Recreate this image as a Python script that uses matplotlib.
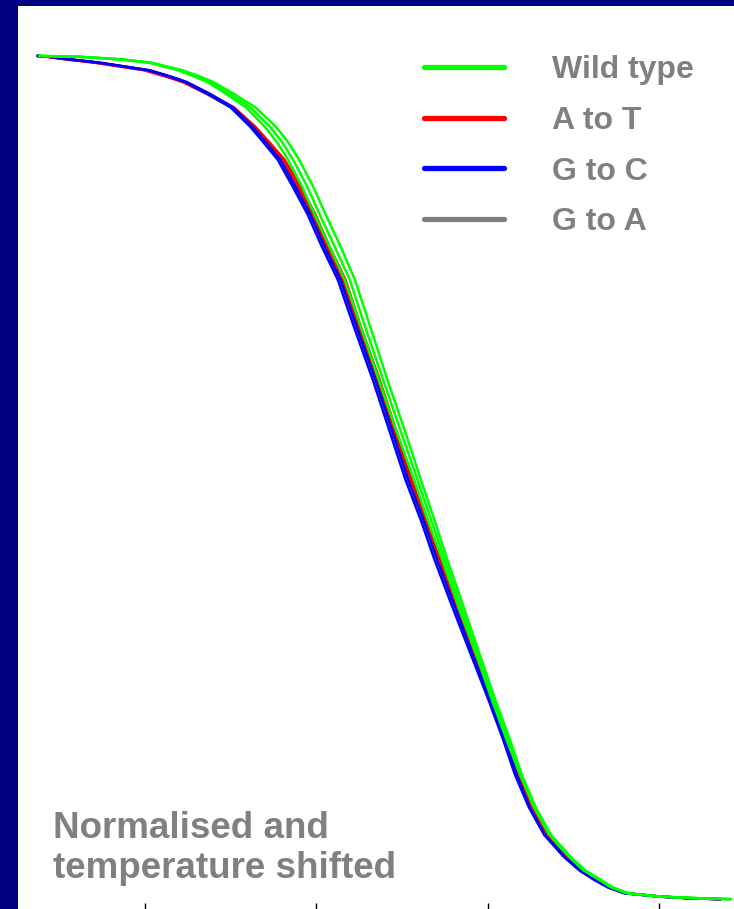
import matplotlib
matplotlib.use("Agg")
import matplotlib.pyplot as plt
from matplotlib.lines import Line2D

plt.rcParams['font.family'] = ['Liberation Sans', 'DejaVu Sans']

# normalised fluorescence levels (%) shared by every melt curve
fluor = [100.0, 99.9, 99.6, 99.2, 98.3, 97.5, 96.9, 95.5, 93.9, 91.6, 89.8, 87.7,
         84.6, 81.2, 77.5, 73.5, 67.6, 61.6, 55.7, 49.8, 45.0, 40.3, 34.4, 28.4,
         23.7, 19.0, 14.8, 11.0, 7.7, 5.1, 3.5, 2.4, 1.5, 0.8, 0.4, 0.2, 0.1]

# shifted temperature (deg C) at which each replicate reaches those levels
wild_type = [
    [78.77, 79.24, 79.71, 80.05, 80.39, 80.59, 80.73, 80.95, 81.18, 81.40, 81.54, 81.67,
     81.83, 81.98, 82.15, 82.33, 82.53, 82.73, 82.93, 83.14, 83.30, 83.47, 83.67, 83.89,
     84.05, 84.22, 84.38, 84.54, 84.72, 84.95, 85.12, 85.30, 85.44, 85.62, 86.00, 86.47, 86.82],
    [78.77, 79.24, 79.71, 80.06, 80.41, 80.62, 80.76, 80.99, 81.23, 81.46, 81.60, 81.73,
     81.89, 82.04, 82.21, 82.39, 82.58, 82.78, 82.98, 83.18, 83.34, 83.50, 83.70, 83.91,
     84.07, 84.24, 84.39, 84.55, 84.73, 84.96, 85.13, 85.31, 85.45, 85.63, 86.01, 86.48, 86.83],
    [78.77, 79.25, 79.72, 80.08, 80.44, 80.66, 80.80, 81.04, 81.29, 81.53, 81.67, 81.80,
     81.96, 82.11, 82.28, 82.45, 82.64, 82.83, 83.03, 83.22, 83.38, 83.53, 83.73, 83.93,
     84.09, 84.26, 84.40, 84.56, 84.74, 84.97, 85.14, 85.32, 85.46, 85.64, 86.02, 86.49, 86.84],
]
a_to_t = [
    [78.75, 78.85, 79.07, 79.41, 79.99, 80.26, 80.44, 80.72, 81.01, 81.26, 81.42, 81.60,
     81.78, 81.96, 82.12, 82.31, 82.51, 82.72, 82.91, 83.10, 83.28, 83.43, 83.65, 83.87,
     84.05, 84.22, 84.35, 84.50, 84.68, 84.91, 85.09, 85.26, 85.42, 85.61, 86.01, 86.36, 86.71],
    [78.76, 78.87, 79.09, 79.44, 80.02, 80.29, 80.47, 80.75, 81.04, 81.29, 81.45, 81.63,
     81.81, 81.99, 82.15, 82.34, 82.53, 82.74, 82.93, 83.12, 83.30, 83.45, 83.67, 83.89,
     84.06, 84.23, 84.36, 84.51, 84.69, 84.92, 85.10, 85.27, 85.43, 85.62, 86.02, 86.37, 86.72],
]
g_to_c = [
    [78.75, 78.89, 79.13, 79.48, 80.06, 80.32, 80.49, 80.76, 81.03, 81.26, 81.41, 81.58,
     81.75, 81.93, 82.09, 82.28, 82.48, 82.69, 82.88, 83.07, 83.25, 83.41, 83.63, 83.85,
     84.03, 84.20, 84.34, 84.49, 84.67, 84.90, 85.08, 85.25, 85.41, 85.60, 86.01, 86.36, 86.71],
    [78.75, 78.88, 79.11, 79.46, 80.04, 80.30, 80.47, 80.73, 81.00, 81.23, 81.38, 81.55,
     81.72, 81.90, 82.06, 82.25, 82.45, 82.66, 82.85, 83.04, 83.22, 83.38, 83.60, 83.83,
     84.01, 84.18, 84.32, 84.48, 84.66, 84.89, 85.07, 85.24, 85.40, 85.59, 86.00, 86.35, 86.70],
]
g_to_a = [
    [78.76, 78.88, 79.12, 79.47, 80.04, 80.31, 80.48, 80.75, 81.02, 81.26, 81.42, 81.59,
     81.77, 81.95, 82.11, 82.30, 82.50, 82.71, 82.90, 83.09, 83.27, 83.42, 83.64, 83.86,
     84.04, 84.21, 84.35, 84.50, 84.68, 84.91, 85.09, 85.26, 85.42, 85.61, 86.02, 86.37, 86.72],
]

labels = ['Wild type', 'A to T', 'G to C', 'G to A']
colors = ['#00ff00', '#ff0000', '#0000ff', '#808080']
curve_colors = ['#00ff00', '#ff0000', '#0000ff', '#262626']
x_ticks = [80, 82, 84, 86]

fig = plt.figure(figsize=(7.34, 9.09), dpi=100)
fig.patch.set_facecolor('#000080')
ax = fig.add_axes([18 / 734, 0.0, 1 - 18 / 734, 1 - 6 / 909])
ax.set_facecolor('white')

# draw back to front: G to A, A to T, G to C, wild type on top
for group, col in [(g_to_a, curve_colors[3]), (a_to_t, curve_colors[1]),
                   (g_to_c, curve_colors[2]), (wild_type, curve_colors[0])]:
    for temps in group:
        ax.plot(temps, fluor, color=col, lw=1.8, solid_joinstyle='round')

ax.set_xlim(78.518, 86.875)
ax.set_ylim(-1.07, 105.92)
ax.set_xticks(x_ticks)
ax.set_xticklabels([])
ax.set_yticks([])
ax.tick_params(axis='x', direction='in', length=4, width=1, color='black')
for s in ax.spines.values():
    s.set_visible(False)

handles = [Line2D([], [], color=c, lw=3.8, solid_capstyle='round') for c in colors]
leg = ax.legend(handles, labels, loc='upper left',
                bbox_to_anchor=(424 / 734, 1 - 55 / 909), bbox_transform=fig.transFigure,
                frameon=False, borderpad=0, borderaxespad=0,
                handlelength=2.5, handletextpad=1.5, labelspacing=0.65,
                prop={'size': 23, 'weight': 'bold'})
for t in leg.get_texts():
    t.set_color('#808080')

fig.text(53 / 734, 1 - 838 / 909, 'Normalised and', color='#808080',
         fontsize=26.5, fontweight='bold', va='baseline', ha='left')
fig.text(53 / 734, 1 - 878 / 909, 'temperature shifted', color='#808080',
         fontsize=26.5, fontweight='bold', va='baseline', ha='left')

fig.savefig('out.png', dpi=100, facecolor=fig.get_facecolor())
